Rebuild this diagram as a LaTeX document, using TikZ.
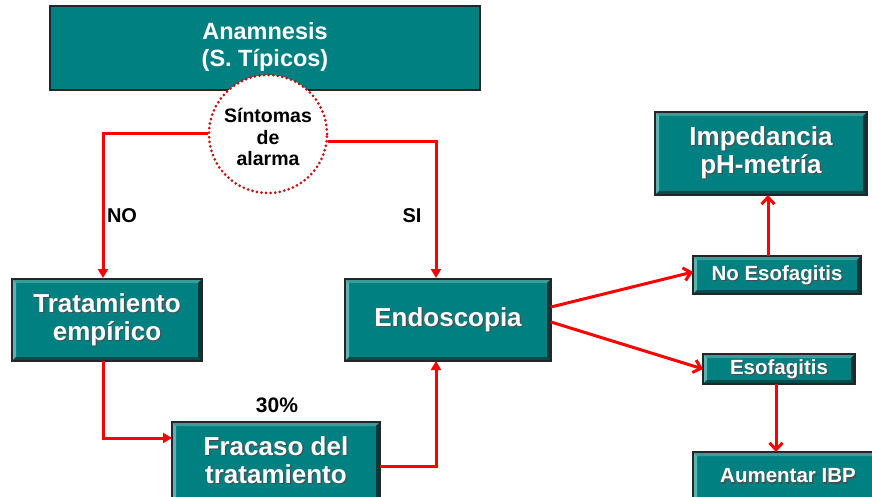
\documentclass[tikz,border=0pt]{standalone}
\usepackage{fontspec}
\setmainfont{Liberation Sans}
\usetikzlibrary{arrows.meta,calc}
\definecolor{tealbase}{HTML}{008080}
\definecolor{bvlight}{HTML}{3C9C9C}
\definecolor{bvleft}{HTML}{5FB0B0}
\definecolor{bvdark}{HTML}{004C4C}
\definecolor{bvright}{HTML}{003A3A}
\definecolor{dotred}{HTML}{C81010}
\tikzset{
  boxbase/.style={fill=tealbase, inner sep=0pt, outer sep=0pt, rectangle},
  boxline/.style={draw=black!85, line width=1.4pt},
  btext/.style={text=white, font=\bfseries, align=center, inner sep=0pt},
  bigt/.style={font=\fontsize{26}{28}\selectfont\bfseries},
  smallt/.style={font=\fontsize{20.5}{22}\selectfont\bfseries},
  arr/.style={draw=red, line width=3pt},
  tri/.style={arr, -{Triangle[length=9pt,width=10pt]}},
  barb/.style={arr, -{Straight Barb[length=7pt,width=13pt,line width=3pt]}},
  lbl/.style={font=\fontsize{20}{22}\selectfont\bfseries, text=black, inner sep=0pt},
}
\newcommand\bvbox[9]{%
 \node[boxbase, minimum width={(#4-#2)*1pt}, minimum height={(#5-#3)*1pt}] (#1) at ({(#2+#4)/2},{(#3+#5)/2}) {};
 \fill[bvlight] (#1.north west) -- (#1.north east) -- ([shift={(-4,4)}]#1.north east) -- ([shift={(4,4)}]#1.north west) -- cycle;
 \fill[bvleft] (#1.north west) -- ([shift={(4,4)}]#1.north west) -- ([shift={(4,-4)}]#1.south west) -- (#1.south west) -- cycle;
 \fill[bvdark] (#1.south west) -- (#1.south east) -- ([shift={(-4,-4)}]#1.south east) -- ([shift={(4,-4)}]#1.south west) -- cycle;
 \fill[bvright] (#1.north east) -- (#1.south east) -- ([shift={(-4,-4)}]#1.south east) -- ([shift={(-4,4)}]#1.north east) -- cycle;
 \draw[boxline] (#1.north west) rectangle (#1.south east);
 \node[btext, #8, text=black!70] at ({#6+1.2},{#7+1.2}) {#9};
 \node[btext, #8] (#1t) at (#6,#7) {#9};
}
\begin{document}
\begin{tikzpicture}[x=1pt,y=-1pt]
\useasboundingbox (0,0) rectangle (872,497);
\clip (0,0) rectangle (872,497);
% top box
\node[boxbase, draw=black!85, line width=2pt, minimum width=430pt, minimum height=84pt] (anam) at (265,48) {};
\node[btext, font=\fontsize{23.5}{27}\selectfont\bfseries] (anamt) at (265,47) {Anamnesis\\(S. Típicos)};
% alarm circle
\node[circle, fill=white, draw=dotred, line width=3pt, dash pattern=on 0pt off 4.6pt, line cap=round, minimum size=118pt, inner sep=0pt] (circ) at (268,134) {};
\node[align=center, inner sep=0pt, font=\fontsize{19.5}{21.5}\selectfont\bfseries] (circt) at (268,137) {Síntomas\\de\\alarma};
% boxes
\bvbox{trat}{12}{279}{202}{361}{107}{320}{bigt}{Tratamiento\\empírico}
\bvbox{endo}{345}{279}{551}{361}{448}{320}{bigt}{Endoscopia}
\bvbox{fra}{172}{422}{380}{510}{276}{460}{bigt}{Fracaso del\\tratamiento}
\bvbox{imp}{655}{112}{867}{195}{761}{153}{bigt}{Impedancia\\pH-metría}
\bvbox{noeso}{693}{256}{861}{294}{777}{275}{smallt}{No Esofagitis}
\bvbox{eso}{703}{354}{855}{384}{779}{369}{smallt}{Esofagitis}
\bvbox{aum}{693}{452}{884}{510}{788}{476}{smallt}{Aumentar IBP}
% labels
\node[lbl] (no) at (122,216) {NO};
\node[lbl] (si) at (412,216) {SI};
\node[lbl, font=\fontsize{21}{22}\selectfont\bfseries] (pct) at (277,405) {30\%};
% connectors
\draw[tri] (circ.west) -| ([shift={(-4,-1)}]trat.north);
\draw[tri] (circ.-7) -| ([shift={(-12,-1)}]endo.north);
\draw[tri] ([shift={(-4,0)}]trat.south) |- ([shift={(0,-28)}]fra.west);
\draw[tri] (fra.east) -| ([shift={(-12,0)}]endo.south);
\draw[barb] ([shift={(0,-13)}]endo.east) -- ([shift={(0,-3)}]noeso.west);
\draw[barb] ([shift={(0,2)}]endo.east) -- (eso.west);
\draw[barb] ([shift={(-9,0)}]noeso.north) -- ([shift={(-9,0)}]noeso.north |- imp.south);
\draw[barb] ([shift={(-3,0)}]eso.south) -- ([shift={(-3,0)}]eso.south |- aum.north);
\end{tikzpicture}
\end{document}
